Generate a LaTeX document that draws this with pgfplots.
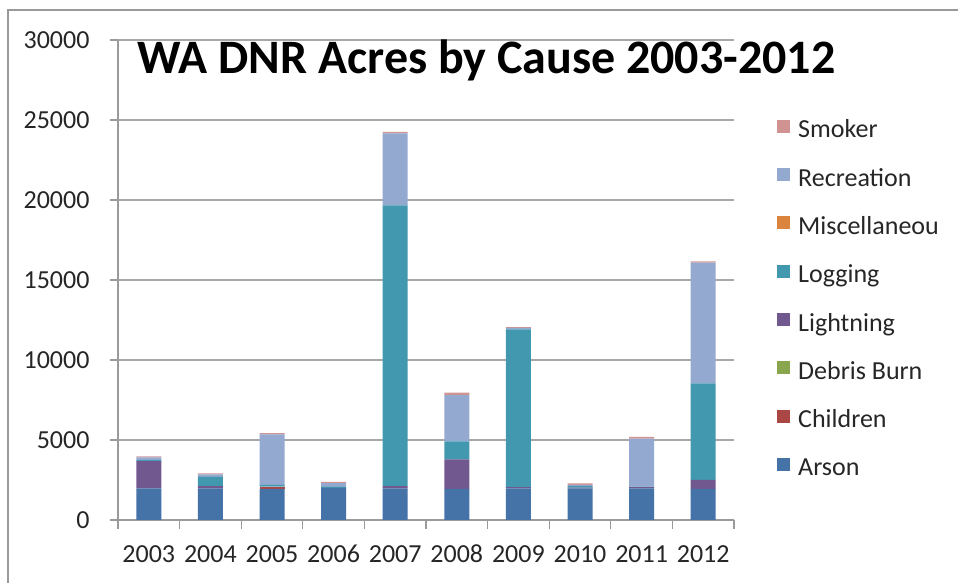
\documentclass[border=0pt]{standalone}
\usepackage{fontspec}
\setmainfont{Carlito}
\usepackage{pgfplots}
\usepackage{pgfplotstable}
\pgfplotsset{compat=1.18}
\definecolor{cArson}{HTML}{4572A7}
\definecolor{cChildren}{HTML}{AA4643}
\definecolor{cDebris}{HTML}{89A54E}
\definecolor{cLightning}{HTML}{71588F}
\definecolor{cLogging}{HTML}{4198AF}
\definecolor{cMisc}{HTML}{DB843D}
\definecolor{cRecreation}{HTML}{93A9CF}
\definecolor{cSmoker}{HTML}{D19392}
\definecolor{axgray}{HTML}{9A9A9A}
\definecolor{gridgray}{HTML}{A8A8A8}
\pgfplotstableread{
x year Arson Children Debris Lightning Logging Misc Recreation Smoker
0 2003 1980 0   0 1700 60    0 180  60
1 2004 1980 0   0 140  570   0 160  70
2 2005 1940 140 0 0    110   0 3160 80
3 2006 2000 0   0 0    70    0 240  80
4 2007 1980 0   0 140  17550 0 4500 80
5 2008 1950 0   0 1840 1130  0 2890 150
6 2009 1980 0   0 80   9860  0 80   60
7 2010 1980 0   0 40   100   0 70   100
8 2011 1980 0   0 80   30    0 3000 100
9 2012 1940 0   0 560  6040  0 7540 90
}\datatable
\begin{document}
\begin{tikzpicture}[x=1bp,y=1bp]
\path[use as bounding box] (0,0) rectangle (958,583);
\draw[axgray,line width=1.5bp] (8,0) -- (8,573) -- (958,573);
\begin{axis}[
  at={(118bp,63bp)}, anchor=south west,
  scale only axis, width=616bp, height=480bp,
  ybar stacked, bar width=25bp,
  xmin=-0.5, xmax=9.5, ymin=0, ymax=30000,
  xtick={0,...,9},
  xticklabels={2003,2004,2005,2006,2007,2008,2009,2010,2011,2012},
  minor xtick={-0.5,0.5,...,9.5},
  ytick={0,5000,...,30000},
  scaled y ticks=false,
  ymajorgrids, major grid style={gridgray,line width=1.2bp},
  axis line style={axgray,line width=1.2bp},
  tick style={axgray,line width=1.2bp},
  tick align=outside,
  major tick length=8bp, minor tick length=9bp,
  xtick style={draw=none},
  minor x tick style={axgray,line width=1.2bp,draw=axgray},
  axis x line*=bottom, axis y line*=left,
  separate axis lines,
  x axis line style={-}, y axis line style={-},
  /pgf/number format/assume math mode=true,
  /pgf/number format/1000 sep={},
  ticklabel style={font=\fontsize{26bp}{30bp}\selectfont, text=black!85},
  yticklabel style={xshift=-17bp},
  xticklabel style={yshift=-13bp, text height=18bp, text depth=0bp},
  reverse legend,
  legend style={draw=none, fill=none, at={(1.0698,0.834)}, anchor=north west,
    font=\fontsize{26bp}{30bp}\selectfont, text=black!85, row sep=24.3bp,
    inner sep=0pt, legend cell align=left,
    nodes={inner sep=0pt, text height=18bp, text depth=6bp},
    /tikz/every odd column/.style={column sep=8bp}},
  legend image code/.code={\fill[#1,draw=none] (0bp,-1bp) rectangle (13bp,12bp);},
  every axis plot/.append style={draw=none},
]
\addplot[fill=cArson] table[x=x,y=Arson]{\datatable};
\addplot[fill=cChildren] table[x=x,y=Children]{\datatable};
\addplot[fill=cDebris] table[x=x,y=Debris]{\datatable};
\addplot[fill=cLightning] table[x=x,y=Lightning]{\datatable};
\addplot[fill=cLogging] table[x=x,y=Logging]{\datatable};
\addplot[fill=cMisc] table[x=x,y=Misc]{\datatable};
\addplot[fill=cRecreation] table[x=x,y=Recreation]{\datatable};
\addplot[fill=cSmoker] table[x=x,y=Smoker]{\datatable};
\legend{Arson,Children,Debris Burn,Lightning,Logging,Miscellaneou,Recreation,Smoker}
\end{axis}
\node[font=\bfseries\fontsize{48bp}{51bp}\selectfont] at (486.5,523) {WA DNR Acres by Cause 2003-2012};
\end{tikzpicture}
\end{document}
